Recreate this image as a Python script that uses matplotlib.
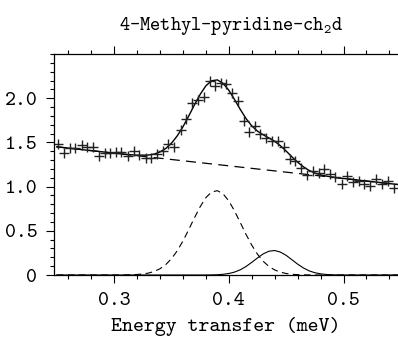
import matplotlib.pyplot as plt
import matplotlib.ticker as mticker

plt.rcParams['font.family'] = ['cmtt10', 'DejaVu Sans Mono']
plt.rcParams['mathtext.fontset'] = 'custom'
plt.rcParams['mathtext.rm'] = 'cmtt10'
plt.rcParams['axes.unicode_minus'] = False

# measured points (energy transfer, intensity)
e_data = [0.2514, 0.2559, 0.2616, 0.2659, 0.2718, 0.2762, 0.2814, 0.2865, 0.2917, 0.2961,
          0.3013, 0.3061, 0.3118, 0.3175, 0.3221, 0.3275, 0.3321, 0.3376, 0.3426, 0.3472,
          0.3524, 0.3581, 0.3629, 0.3679, 0.3728, 0.3780, 0.3833, 0.3882, 0.3932, 0.3978,
          0.4028, 0.4080, 0.4129, 0.4179, 0.4228, 0.4275, 0.4324, 0.4373, 0.4428, 0.4478,
          0.4530, 0.4581, 0.4630, 0.4683, 0.4734, 0.4784, 0.4834, 0.4884, 0.4930, 0.4985,
          0.5033, 0.5085, 0.5134, 0.5181, 0.5234, 0.5284, 0.5338, 0.5389, 0.5439]
i_data = [1.477, 1.375, 1.440, 1.432, 1.466, 1.451, 1.443, 1.347, 1.375, 1.375,
          1.392, 1.386, 1.344, 1.406, 1.358, 1.318, 1.322, 1.369, 1.398, 1.477,
          1.451, 1.640, 1.761, 1.943, 1.981, 2.019, 2.197, 2.140, 2.170, 2.159,
          2.057, 1.969, 1.742, 1.614, 1.685, 1.591, 1.553, 1.515, 1.511, 1.443,
          1.313, 1.295, 1.205, 1.131, 1.182, 1.156, 1.201, 1.145, 1.114, 1.032,
          1.120, 1.051, 1.060, 1.032, 1.011, 1.083, 1.028, 1.060, 0.985]

# fitted curves, read at 0.005 meV steps
e_fit = [0.250, 0.255, 0.260, 0.265, 0.270, 0.275, 0.280, 0.285, 0.290, 0.295,
         0.300, 0.305, 0.310, 0.315, 0.320, 0.325, 0.330, 0.335, 0.340, 0.345,
         0.350, 0.355, 0.360, 0.365, 0.370, 0.375, 0.380, 0.385, 0.390, 0.395,
         0.400, 0.405, 0.410, 0.415, 0.420, 0.425, 0.430, 0.435, 0.440, 0.445,
         0.450, 0.455, 0.460, 0.465, 0.470, 0.475, 0.480, 0.485, 0.490, 0.495,
         0.500, 0.505, 0.510, 0.515, 0.520, 0.525, 0.530, 0.535, 0.540, 0.545, 0.550]
total = [1.450, 1.443, 1.436, 1.429, 1.421, 1.414, 1.407, 1.400, 1.393, 1.386,
         1.378, 1.371, 1.365, 1.360, 1.356, 1.355, 1.357, 1.368, 1.392, 1.431,
         1.491, 1.573, 1.676, 1.797, 1.924, 2.043, 2.140, 2.197, 2.207, 2.168,
         2.090, 1.985, 1.873, 1.770, 1.687, 1.627, 1.586, 1.550, 1.512, 1.462,
         1.402, 1.337, 1.276, 1.224, 1.183, 1.154, 1.133, 1.119, 1.108, 1.100,
         1.092, 1.085, 1.077, 1.070, 1.063, 1.056, 1.049, 1.042, 1.034, 1.027, 1.020]
peak1 = [0.000, 0.000, 0.000, 0.000, 0.000, 0.000, 0.000, 0.000, 0.000, 0.000,
         0.000, 0.000, 0.001, 0.003, 0.006, 0.012, 0.022, 0.040, 0.071, 0.117,
         0.184, 0.273, 0.384, 0.512, 0.646, 0.772, 0.875, 0.939, 0.954, 0.918,
         0.838, 0.724, 0.593, 0.460, 0.338, 0.235, 0.155, 0.096, 0.057, 0.032,
         0.017, 0.008, 0.004, 0.002, 0.001, 0.000, 0.000, 0.000, 0.000, 0.000,
         0.000, 0.000, 0.000, 0.000, 0.000, 0.000, 0.000, 0.000, 0.000, 0.000, 0.000]
peak2 = [0.000, 0.000, 0.000, 0.000, 0.000, 0.000, 0.000, 0.000, 0.000, 0.000,
         0.000, 0.000, 0.000, 0.000, 0.000, 0.000, 0.000, 0.000, 0.000, 0.000,
         0.000, 0.000, 0.000, 0.000, 0.000, 0.000, 0.000, 0.001, 0.003, 0.008,
         0.017, 0.033, 0.059, 0.096, 0.143, 0.193, 0.239, 0.269, 0.277, 0.259,
         0.222, 0.173, 0.123, 0.080, 0.047, 0.026, 0.013, 0.006, 0.002, 0.001,
         0.000, 0.000, 0.000, 0.000, 0.000, 0.000, 0.000, 0.000, 0.000, 0.000, 0.000]
# linear background
e_bg = [0.250, 0.550]
bg = [1.450, 1.020]

fig = plt.figure(figsize=(3.98, 3.37), dpi=100)
ax = fig.add_axes([54 / 398, 62 / 337, 344 / 398, 221 / 337])

ax.plot(e_fit, total, color='black', lw=1.0)
ax.plot(e_bg, bg, color='black', lw=0.9, dashes=(8, 5))
ax.plot(e_fit, peak1, color='black', lw=0.8, dashes=(6, 4))
ax.plot(e_fit, peak2, color='black', lw=0.8)
ax.plot(e_data, i_data, linestyle='none', marker='+', ms=6.5, mew=1.0, color='#222222')

ax.set_xlim(0.2476, 0.5475)
ax.set_ylim(0, 2.5)
ax.spines['right'].set_visible(False)
for s in ['left', 'top', 'bottom']:
    ax.spines[s].set_linewidth(0.9)

ax.xaxis.set_major_locator(mticker.FixedLocator([0.3, 0.4, 0.5]))
ax.xaxis.set_minor_locator(mticker.MultipleLocator(0.02))
ax.set_xticklabels(['0.3', '0.4', '0.5'])
ax.yaxis.set_major_locator(mticker.FixedLocator([0, 0.5, 1.0, 1.5, 2.0]))
ax.yaxis.set_minor_locator(mticker.MultipleLocator(0.1))
ax.set_yticklabels(['0', '0.5', '1.0', '1.5', '2.0'])

ax.tick_params(which='both', direction='out', top=True, right=False, width=0.8, labelsize=15)
ax.tick_params(which='major', length=6, pad=6)
ax.tick_params(which='minor', length=3)

ax.set_xlabel('Energy transfer (meV)', fontsize=15, labelpad=5)
fig.text(0.58, 0.922, '4-Methyl-pyridine-ch$_2$d', ha='center', va='center', fontsize=14)

fig.savefig('out.png', dpi=100)
